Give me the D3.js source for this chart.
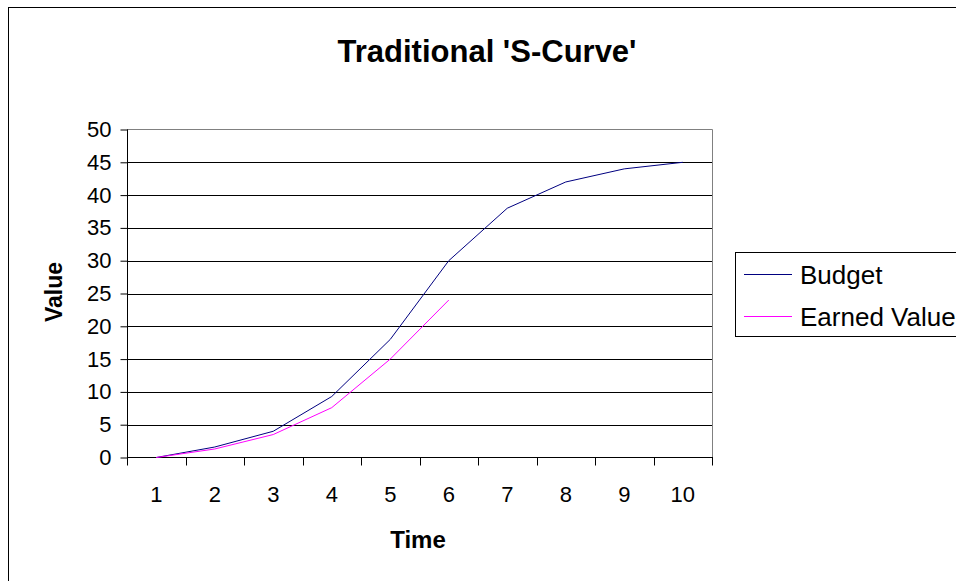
<!DOCTYPE html>
<html><head><meta charset="utf-8">
<script src="https://cdn.jsdelivr.net/npm/d3@7"></script>
<style>body{margin:0;background:#fff;}svg{display:block;font-family:Arial,"Liberation Sans",sans-serif;}</style>
</head><body>
<svg id="c" width="956" height="581"></svg>
<script>
const categories = ["1","2","3","4","5","6","7","8","9","10"];
const budget = [0, 1.6, 4, 9.3, 18, 30, 38, 42, 44, 45];
const earnedValue = [0, 1.3, 3.5, 7.6, 15, 24];
const yTicks = [0,5,10,15,20,25,30,35,40,45,50];
const seriesNames = ["Budget","Earned Value"];
const seriesColors = ["#000080","#FF00FF"];

const svg = d3.select("#c");
// outer chart border
svg.append("rect").attr("x",8.5).attr("y",7.5).attr("width",1000).attr("height",1000)
  .attr("fill","#fff").attr("stroke","#000").attr("stroke-width",1);

const L=127, R=712, T=129.5, B=457.5;
const x = d3.scaleBand().domain(categories).range([L,R]).padding(0);
const y = d3.scaleLinear().domain([0,50]).range([B,T]);

// gridlines
svg.append("g").selectAll("line").data(yTicks.filter(v=>v>0&&v<50)).join("line")
  .attr("x1",L).attr("x2",R).attr("y1",d=>Math.round(y(d))+0.5).attr("y2",d=>Math.round(y(d))+0.5)
  .attr("stroke","#000").attr("stroke-width",1);
// plot area top/right border gray
svg.append("path").attr("d",`M${L},${T}H${R+0.5}V${B}`).attr("fill","none").attr("stroke","#808080").attr("stroke-width",1);

// y axis
const yAxis = d3.axisLeft(y).tickValues(yTicks).tickSize(7).tickPadding(9).tickFormat(d3.format("d"));
const gy = svg.append("g").attr("transform",`translate(${L+0.5},0)`).call(yAxis);
gy.select(".domain").attr("stroke","#000").attr("d",`M-0,${T}V${B}`);
gy.selectAll(".tick line").attr("stroke","#000");
gy.selectAll("text").attr("font-size",22).attr("fill","#000").attr("font-family","Arial,'Liberation Sans',sans-serif");

// x axis with ticks between categories
const gx = svg.append("g").attr("transform",`translate(0,${B})`);
gx.append("line").attr("x1",L).attr("x2",R+1).attr("y1",0).attr("y2",0).attr("stroke","#000");
const bounds = categories.map(c=>x(c)).concat([x(categories[categories.length-1])+x.bandwidth()]);
gx.selectAll(".tk").data(bounds).join("line").attr("class","tk")
  .attr("x1",d=>Math.round(d)+0.5).attr("x2",d=>Math.round(d)+0.5).attr("y1",0).attr("y2",8).attr("stroke","#000");
gx.selectAll("text").data(categories).join("text")
  .attr("x",d=>x(d)+x.bandwidth()/2).attr("y",44).attr("text-anchor","middle")
  .attr("font-size",22).attr("fill","#000").text(d=>d);

// lines
const line = d3.line().x((d,i)=>x(categories[i])+x.bandwidth()/2).y(d=>y(d));
[budget, earnedValue].forEach((s,i)=>{
  svg.append("path").datum(s).attr("d",line).attr("fill","none")
    .attr("stroke",seriesColors[i]).attr("stroke-width",1);
});

// titles
svg.append("text").attr("x",487).attr("y",62).attr("text-anchor","middle")
  .attr("font-size",31).attr("font-weight","bold").text("Traditional 'S-Curve'");
svg.append("text").attr("x",418).attr("y",548).attr("text-anchor","middle")
  .attr("font-size",24).attr("font-weight","bold").text("Time");
svg.append("text").attr("transform","translate(62,292) rotate(-90)").attr("text-anchor","middle")
  .attr("font-size",23).attr("font-weight","bold").text("Value");

// legend
const lg = svg.append("g");
lg.append("rect").attr("x",735.5).attr("y",252.5).attr("width",300).attr("height",84)
  .attr("fill","#fff").attr("stroke","#000");
seriesNames.forEach((n,i)=>{
  const yy = 274.5 + i*42;
  lg.append("line").attr("x1",744).attr("x2",792).attr("y1",yy).attr("y2",yy)
    .attr("stroke",seriesColors[i]).attr("stroke-width",1);
  lg.append("text").attr("x",800).attr("y",yy+9).attr("font-size",26).attr("fill","#000").text(n);
});
</script>
</body></html>
